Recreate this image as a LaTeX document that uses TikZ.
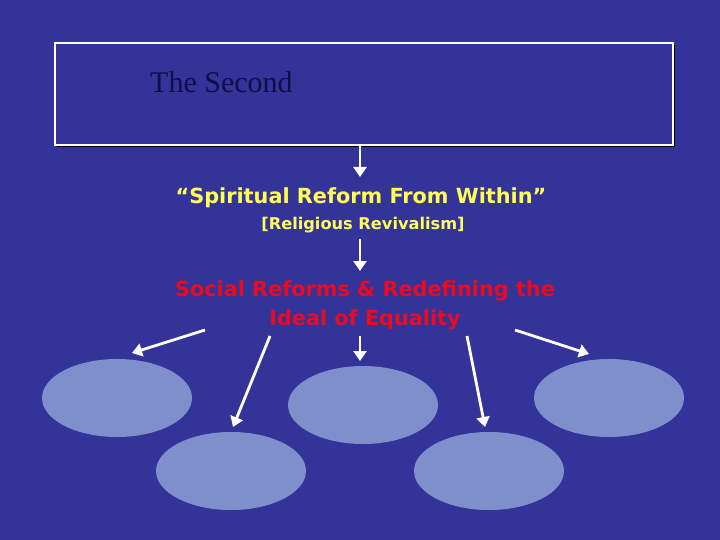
\documentclass[tikz,border=0pt]{standalone}
\usepackage{fontspec}
\setmainfont{Liberation Serif}
\newfontfamily\comicfont{DejaVu Sans}
\usetikzlibrary{arrows.meta,shapes.geometric}
\definecolor{bgblue}{RGB}{51,51,153}
\definecolor{ovalblue}{RGB}{127,143,204}
\definecolor{navytext}{RGB}{15,15,70}
\definecolor{yel}{RGB}{255,255,85}
\definecolor{redtxt}{RGB}{235,10,30}
\tikzset{
  arr/.style={white, line width=2.8pt, -{Triangle[length=10pt,width=13pt]}},
  oval/.style={ellipse, fill=ovalblue, draw=none, minimum width=150pt, minimum height=78pt, inner sep=0pt},
  txt/.style={inner sep=0pt, anchor=center},
}
\begin{document}
\begin{tikzpicture}[x=1pt,y=-1pt]
\fill[bgblue] (0,0) rectangle (720,540);
\useasboundingbox (0,0) rectangle (720,540);
% title box with shadow
\fill[black] (57,45) rectangle (675,147);
\node[draw=white, line width=1.2pt, fill=bgblue, minimum width=618pt, minimum height=102pt, inner sep=0pt] (box) at (364,94) {};
\node[txt, anchor=base west, text=navytext, font=\fontsize{30}{34}\selectfont] (title) at (150,93) {The Second};
% texts
\node[txt, text=yel, font=\comicfont\bfseries\fontsize{20.8}{25}\selectfont] (spirit) at (361,198) {“Spiritual Reform From Within”};
\node[txt, text=yel, font=\comicfont\bfseries\fontsize{16.2}{20}\selectfont] (relig) at (363,225) {[Religious Revivalism]};
\node[txt, text=redtxt, font=\comicfont\bfseries\fontsize{20.8}{25}\selectfont, align=center] (social) at (365,305) {Social Reforms \& Redefining the\\[4pt]Ideal of Equality};
% ovals
\node[oval] (e1) at (117,398) {};
\node[oval] (e2) at (231,471) {};
\node[oval] (e3) at (363,405) {};
\node[oval] (e4) at (489,471) {};
\node[oval] (e5) at (609,398) {};
% arrow end points
\coordinate (a1s) at (205,330); \coordinate (a1e) at (132,353);
\coordinate (a2s) at (270,336); \coordinate (a2e) at (233,427);
\coordinate (a3s) at (360,336); \coordinate (a3e) at (360,361);
\coordinate (a4s) at (467,336); \coordinate (a4e) at (485,427);
\coordinate (a5s) at (515,330); \coordinate (a5e) at (589,354);
\coordinate (t1e) at (360,177);
\coordinate (t2s) at (360,239); \coordinate (t2e) at (360,271);
\draw[arr] (box.south -| t1e) -- (t1e);
\draw[arr] (t2s) -- (t2e);
\draw[arr] (a1s) -- (a1e);
\draw[arr] (a2s) -- (a2e);
\draw[arr] (a3s) -- (a3e);
\draw[arr] (a4s) -- (a4e);
\draw[arr] (a5s) -- (a5e);
\end{tikzpicture}
\end{document}
